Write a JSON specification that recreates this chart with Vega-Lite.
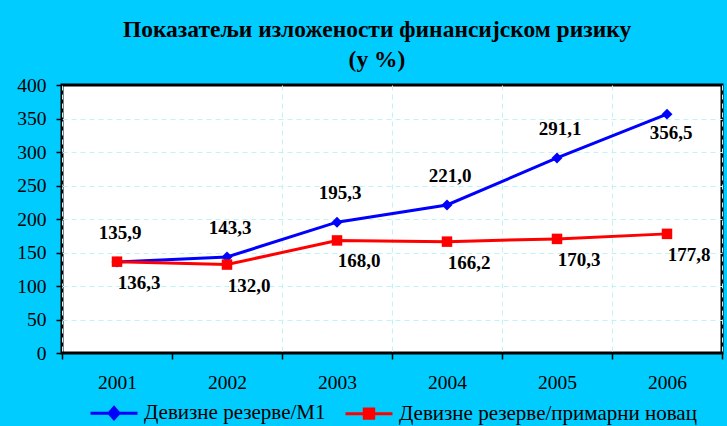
{
  "$schema": "https://vega.github.io/schema/vega-lite/v6.json",
  "width": 660,
  "height": 268,
  "autosize": {"type": "none"},
  "padding": {"left": 62, "top": 85, "right": 5, "bottom": 73},
  "background": "#00CCFF",
  "title": {
    "text": ["Показатељи изложености финансијском ризику", "(у %)"],
    "font": "Liberation Serif",
    "fontSize": 23.5,
    "fontWeight": "bold",
    "color": "black",
    "anchor": "middle",
    "lineHeight": 30,
    "offset": 4,
    "dx": -15
  },
  "config": {
    "locale": {"number": {"decimal": ",", "thousands": ".", "grouping": [3], "currency": ["", ""]}},
    "view": {"fill": "white", "stroke": "black", "strokeWidth": 3},
    "axis": {"labelFont": "Liberation Serif", "labelFontSize": 19.5, "labelColor": "black", "domain": false, "tickColor": "black", "tickWidth": 1.5, "tickSize": 6, "gridColor": "#BDF4F6", "gridDash": [5, 4], "gridWidth": 1, "title": null},
    "legend": {"labelFont": "Liberation Serif", "labelFontSize": 21, "labelColor": "black", "labelLimit": 500}
  },
  "data": {
    "values": [
      {"year": "2001", "series": "Девизне резерве/М1", "value": 135.9},
      {"year": "2002", "series": "Девизне резерве/М1", "value": 143.3},
      {"year": "2003", "series": "Девизне резерве/М1", "value": 195.3},
      {"year": "2004", "series": "Девизне резерве/М1", "value": 221.0},
      {"year": "2005", "series": "Девизне резерве/М1", "value": 291.1},
      {"year": "2006", "series": "Девизне резерве/М1", "value": 356.5},
      {"year": "2001", "series": "Девизне резерве/примарни новац", "value": 136.3},
      {"year": "2002", "series": "Девизне резерве/примарни новац", "value": 132.0},
      {"year": "2003", "series": "Девизне резерве/примарни новац", "value": 168.0},
      {"year": "2004", "series": "Девизне резерве/примарни новац", "value": 166.2},
      {"year": "2005", "series": "Девизне резерве/примарни новац", "value": 170.3},
      {"year": "2006", "series": "Девизне резерве/примарни новац", "value": 177.8}
    ]
  },
  "encoding": {
    "x": {"field": "year", "type": "ordinal", "scale": {"type": "band", "paddingInner": 0, "paddingOuter": 0},
      "axis": {"labelAngle": 0, "tickBand": "extent", "labelPadding": 14, "grid": true,
        "gridOpacity": {"condition": {"test": "datum.value === '2001'", "value": 0}, "value": 1}}},
    "y": {"field": "value", "type": "quantitative", "scale": {"domain": [0, 400], "nice": false},
      "axis": {"values": [0, 50, 100, 150, 200, 250, 300, 350, 400], "labelPadding": 10, "grid": true,
        "gridOpacity": {"condition": {"test": "datum.value === 0 || datum.value === 400", "value": 0}, "value": 1}}}
  },
  "layer": [
    {
      "mark": {"type": "line", "strokeWidth": 3},
      "encoding": {
        "color": {"field": "series", "type": "nominal",
          "scale": {"domain": ["Девизне резерве/М1", "Девизне резерве/примарни новац"], "range": ["#0000FF", "#FF0000"]},
          "legend": {
            "title": null, "orient": "none", "direction": "horizontal", "columns": 2,
            "legendX": 27, "legendY": 303, "padding": 0,
            "symbolSize": 2209, "symbolStrokeWidth": 3, "labelOffset": 5, "columnPadding": 13,
            "encode": {"symbols": {"update": {
              "shape": {"signal": "datum.value === 'Девизне резерве/М1' ? 'M-1,0H1M0,-0.24L0.21,0L0,0.24L-0.21,0Z' : 'M-1,0H1M-0.2,-0.2H0.2V0.2H-0.2Z'"},
              "fill": {"signal": "datum.value === 'Девизне резерве/М1' ? '#0000FF' : '#FF0000'"},
              "stroke": {"signal": "datum.value === 'Девизне резерве/М1' ? '#0000FF' : '#FF0000'"},
              "strokeWidth": {"value": 3},
              "opacity": {"value": 1}
            }}}
          }}
      }
    },
    {
      "transform": [{"filter": "datum.series === 'Девизне резерве/М1'"}],
      "mark": {"type": "point", "filled": true, "opacity": 1, "shape": "diamond", "size": 120, "color": "#0000FF"}
    },
    {
      "transform": [{"filter": "datum.series === 'Девизне резерве/примарни новац'"}],
      "mark": {"type": "point", "filled": true, "opacity": 1, "shape": "square", "size": 110, "color": "#FF0000"}
    },
    {
      "transform": [{"filter": "datum.series === 'Девизне резерве/М1' && datum.year !== '2006'"}],
      "mark": {"type": "text", "font": "Liberation Serif", "fontSize": 19, "fontWeight": "bold", "color": "black", "dx": 3, "dy": -29, "baseline": "middle"},
      "encoding": {"text": {"field": "value", "type": "quantitative", "format": ".1f"}}
    },
    {
      "transform": [{"filter": "datum.series === 'Девизне резерве/М1' && datum.year === '2006'"}],
      "mark": {"type": "text", "font": "Liberation Serif", "fontSize": 19, "fontWeight": "bold", "color": "black", "dx": 4, "dy": 19, "baseline": "middle"},
      "encoding": {"text": {"field": "value", "type": "quantitative", "format": ".1f"}}
    },
    {
      "transform": [{"filter": "datum.series === 'Девизне резерве/примарни новац'"}],
      "mark": {"type": "text", "font": "Liberation Serif", "fontSize": 19, "fontWeight": "bold", "color": "black", "dx": 22, "dy": 21, "baseline": "middle"},
      "encoding": {"text": {"field": "value", "type": "quantitative", "format": ".1f"}}
    }
  ]
}
